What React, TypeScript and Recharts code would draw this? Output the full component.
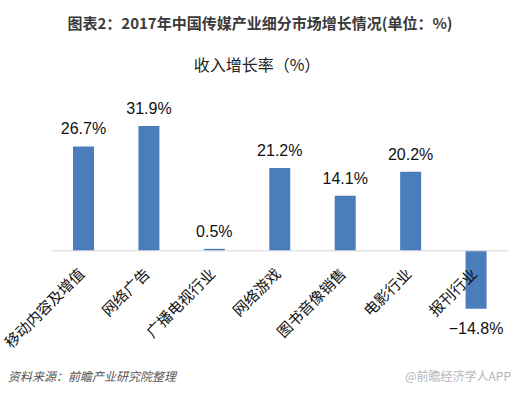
import React from 'react';
import { BarChart, Bar, XAxis, YAxis, ReferenceLine, LabelList } from 'recharts';

const categories = ['移动内容及增值', '网络广告', '广播电视行业', '网络游戏', '图书音像销售', '电影行业', '报刊行业'];
const growth = [26.7, 31.9, 0.5, 21.2, 14.1, 20.2, -14.8];
const yDomain = [-20, 35];

const data = categories.map((name, i) => ({ name, value: growth[i] }));

const fmt = (v: number) => (v < 0 ? '\u2212' + Math.abs(v).toFixed(1) : v.toFixed(1)) + '%';

const box = (p: any) => {
  const vb = p.viewBox ?? p;
  const y1 = Math.min(vb.y, vb.y + vb.height);
  const y2 = Math.max(vb.y, vb.y + vb.height);
  return { cx: vb.x + vb.width / 2, top: y1, bottom: y2 };
};

const ValueLabel = (p: any) => {
  const v = Number(p.value);
  const { cx, top, bottom } = box(p);
  const y = v >= 0 ? top - 12 : bottom + 25;
  return (
    <text x={cx} y={y} textAnchor="middle" fontFamily="'Liberation Sans', Arial, sans-serif" fontSize={16} fill="#111">
      {fmt(v)}
    </text>
  );
};

const NameLabel = (p: any) => {
  const v = growth[p.index] ?? 0;
  const { cx, top, bottom } = box(p);
  const zero = v >= 0 ? bottom : top;
  const ax = cx + 2;
  const ay = zero + 24;
  return (
    <text
      x={ax}
      y={ay}
      textAnchor="end"
      transform={`rotate(-45 ${ax} ${ay})`}
      fontFamily="'Noto Sans CJK SC', sans-serif"
      fontSize={15}
      fill="#111"
    >
      {p.value}
    </text>
  );
};

export default function App() {
  return (
    <div style={{ position: 'absolute', left: 0, top: 0, width: 520, height: 394, background: '#fff', overflow: 'hidden' }}>
      <BarChart width={520} height={394} data={data} margin={{ top: 114, right: 11, bottom: 65, left: 51 }}>
        <XAxis dataKey="name" hide />
        <YAxis hide domain={yDomain} />
        <ReferenceLine y={0} stroke="#d9d9d9" strokeWidth={1} />
        <Bar dataKey="value" fill="#4a7ebb" barSize={21} isAnimationActive={false}>
          <LabelList dataKey="value" content={<ValueLabel />} />
          <LabelList dataKey="name" content={<NameLabel />} />
        </Bar>
      </BarChart>
      <svg width={520} height={394} style={{ position: 'absolute', left: 0, top: 0, pointerEvents: 'none' }}>
        <text x={260} y={29} textAnchor="middle" fontFamily="'Noto Sans CJK SC', sans-serif" fontWeight="bold" fontSize={15} fill="#3a3a3a">
          图表2：2017年中国传媒产业细分市场增长情况(单位：%)
        </text>
        <text x={257} y={71} textAnchor="middle" fontFamily="'Noto Sans CJK SC', sans-serif" fontSize={16} fill="#222">
          收入增长率（%）
        </text>
        <text x={8} y={381} fontFamily="'Noto Sans CJK SC', sans-serif" fontStyle="italic" fontSize={12} fill="#555">
          资料来源：前瞻产业研究院整理
        </text>
        <text x={511} y={381} textAnchor="end" fontFamily="'Noto Sans CJK SC', sans-serif" fontSize={12} fill="#b5b5b5">
          @前瞻经济学人APP
        </text>
      </svg>
    </div>
  );
}
